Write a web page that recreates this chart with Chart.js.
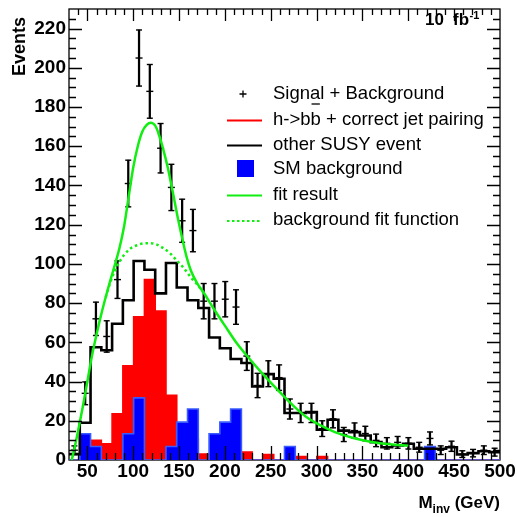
<!DOCTYPE html>
<html>
<head>
<meta charset="utf-8">
<script src="https://cdn.jsdelivr.net/npm/chart.js@4.4.1/dist/chart.umd.min.js"></script>
<style>
html,body{margin:0;padding:0;background:#fff;}
#wrap{width:517px;height:517px;}
</style>
</head>
<body>
<div id="wrap"><canvas id="minvChart" width="517" height="517"></canvas></div>
<script>

/* ================================
   DATA (40 bins, 30 - 500 GeV)
================================ */

const histRange = [30, 500];

const sigBkgCounts = [5, 34, 72, 63, 92, 141, 205, 188, 159, 139,
    122, 117, 81, 81, 82, 78, 53, 38, 44, 42,
    26, 24, 24, 16, 21, 13, 15, 13.5, 10, 8.5,
    9, 8.5, 6.5, 11, 5, 7, 3, 3.5, 5, 4];

const sigBkgErrors = [2.2, 5.8, 8.5, 8, 9.6, 11.9, 14.3, 13.7, 12.6, 11.8,
    11, 10.8, 9, 9, 9, 8.8, 7.3, 6.2, 6.6, 6.5,
    5.1, 4.9, 4.9, 4, 4.6, 3.6, 3.9, 3.7, 3.2, 2.9,
    3, 2.9, 2.5, 3.3, 2.2, 2.6, 1.7, 1.9, 2.2, 2];

const otherSusyCounts = [3, 19, 57.5, 56, 69.5, 81.5, 101.5, 97, 85, 100.5,
    88, 81.5, 77.5, 62.5, 57, 51.5, 49.5, 37.5, 43.8, 41.4,
    24, 24, 24.4, 15.4, 20.5, 15, 14.2, 12.5, 9.1, 6.5,
    7.4, 8.3, 5.7, 5.7, 5.7, 6.5, 2.8, 3.5, 4.5, 4];

const hbbCounts = [0, 0, 10, 8.3, 23.5, 48, 73, 92, 76, 33,
    14, 11, 3, 0, 0, 0, 4, 0, 2.8, 0,
    0, 1.8, 0, 1.8, 0, 0, 0, 0, 0, 0,
    0, 0, 0, 0, 0, 0, 0, 0, 0, 0];

const smBkgCounts = [0, 13.4, 6.9, 0, 0, 13.4, 31.7, 0, 0, 6.9,
    19.3, 26, 0, 13.4, 19.3, 26, 0, 0, 0, 0,
    6.9, 0, 0, 0, 0, 0, 0, 0, 0, 0,
    0, 0, 0, 6.9, 0, 0, 0, 0, 0, 0];

const fitMass = [33, 36, 40, 45, 50, 55, 60, 65, 70, 75,
    80, 85, 90, 95, 100, 105, 110, 115, 119, 124,
    128, 133, 138, 143, 148, 153, 158, 163, 170, 178,
    188, 200, 213, 227, 242, 258, 275, 290, 305, 320,
    340, 360, 380, 400];
const fitEvents = [0, 6, 15, 27, 40, 53, 64, 74, 83, 91.5,
    99.5, 108, 119, 134, 149, 160, 167.5, 171, 172, 170.5,
    166, 158, 148.5, 137, 125, 114, 104, 96.5, 90, 84.5,
    77, 68.5, 59.5, 51.5, 43.5, 35.5, 27.5, 21.5, 17.5, 14.2,
    11.2, 9.2, 8, 7.3];

const bkgFitMass = [70, 75, 80, 85, 90, 96, 104, 112, 118, 125, 132, 140, 147, 155, 163, 170, 178];
const bkgFitEvents = [83, 90.5, 96.5, 101, 104.5, 107.5, 109.5, 110.5, 110.6, 110, 108.3, 105.5, 102, 98, 93, 89.5, 84.5];

const xTickLabels = [50, 100, 150, 200, 250, 300, 350, 400, 450, 500];
const yTickLabels = [0, 20, 40, 60, 80, 100, 120, 140, 160, 180, 200, 220];

const legendLabels = [
    "Signal + Background",
    "h->bb + correct jet pairing",
    "other SUSY event",
    "SM background",
    "fit result",
    "background fit function"
];


/* ================================
   HELPERS
================================ */

const GREEN = "#11ee11";
const FONT = "'Liberation Sans', Arial, sans-serif";

const binWidth = (histRange[1] - histRange[0]) / sigBkgCounts.length;

function binCentre(i){
    return histRange[0] + (i + 0.5) * binWidth;
}

function histSteps(counts){
    const pts = counts.map((c, i) => ({x: histRange[0] + i * binWidth, y: c}));
    pts.push({x: histRange[1], y: counts[counts.length - 1]});
    return pts;
}

function curve(xs, ys){
    return xs.map((x, i) => ({x: x, y: ys[i]}));
}

const centrePoints = sigBkgCounts.map((c, i) => ({x: binCentre(i), y: c}));
const capPoints = [];
sigBkgCounts.forEach((c, i) => {
    capPoints.push({x: binCentre(i), y: c - sigBkgErrors[i]});
    capPoints.push({x: binCentre(i), y: c + sigBkgErrors[i]});
});
const errorBars = sigBkgCounts.map((c, i) => ({x: binCentre(i), y: [c - sigBkgErrors[i], c + sigBkgErrors[i]]}));


/* ================================
   PLUGINS: frame, ticks, texts, legend
================================ */

const rootFrame = {
    id: "rootFrame",
    beforeDatasetsDraw(chart){
        const {ctx, chartArea: a} = chart;
        ctx.save();
        ctx.strokeStyle = "#000";
        ctx.lineWidth = 1.3;
        ctx.strokeRect(a.left, a.top, a.right - a.left, a.bottom - a.top);
        ctx.restore();
    },
    afterDatasetsDraw(chart){
        const {ctx, chartArea: a, scales} = chart;
        const x = scales.x, y = scales.y;
        ctx.save();
        ctx.strokeStyle = "#000";
        ctx.lineWidth = 1.3;
        ctx.beginPath();
        for(let v = 40; v < histRange[1]; v += 10){
            const px = Math.round(x.getPixelForValue(v)) + 0.5;
            const major = v % 50 === 0;
            const lb = major ? 14 : 7;
            const lt = major ? 12 : 6;
            ctx.moveTo(px, a.bottom); ctx.lineTo(px, a.bottom - lb);
            ctx.moveTo(px, a.top); ctx.lineTo(px, a.top + lt);
        }
        for(let v = 5; v < 230; v += 5){
            const py = Math.round(y.getPixelForValue(v)) + 0.5;
            const major = v % 20 === 0;
            const len = major ? 13 : 7;
            ctx.moveTo(a.left, py); ctx.lineTo(a.left + len, py);
            ctx.moveTo(a.right, py); ctx.lineTo(a.right - len, py);
        }
        ctx.stroke();
        ctx.restore();
    },
    afterDraw(chart){
        const ctx = chart.ctx;
        ctx.save();
        ctx.fillStyle = "#000";

        // y title
        ctx.save();
        ctx.translate(25, 17);
        ctx.rotate(-Math.PI / 2);
        ctx.font = "bold 18px " + FONT;
        ctx.textAlign = "right";
        ctx.textBaseline = "alphabetic";
        ctx.fillText("Events", 0, 0);
        ctx.restore();

        // x title  M_inv (GeV)
        ctx.textBaseline = "alphabetic";
        ctx.textAlign = "left";
        ctx.font = "bold 17px " + FONT;
        const wM = ctx.measureText("M").width;
        const wG = ctx.measureText(" (GeV)").width;
        ctx.font = "bold 12px " + FONT;
        const wI = ctx.measureText("inv").width;
        let tx = 500 - (wM + wI + wG);
        ctx.font = "bold 17px " + FONT;
        ctx.fillText("M", tx, 508);
        ctx.font = "bold 12px " + FONT;
        ctx.fillText("inv", tx + wM, 513);
        ctx.font = "bold 17px " + FONT;
        ctx.fillText(" (GeV)", tx + wM + wI, 508);

        // luminosity label
        ctx.font = "bold 17px " + FONT;
        ctx.fillText("10", 425, 25);
        ctx.fillText("fb", 453, 25);
        const wfb = ctx.measureText("fb").width;
        ctx.font = "bold 11px " + FONT;
        ctx.fillText("-1", 453 + wfb + 0.5, 19);

        // legend
        const textY = [93.5, 120, 144.5, 168.5, 194.5, 219.5];
        const x0 = 227, x1 = 262, tx0 = 273;
        ctx.font = "18.5px " + FONT;
        ctx.textBaseline = "middle";
        legendLabels.forEach((lab, i) => {
            ctx.fillStyle = "#000";
            ctx.fillText(lab, tx0, textY[i]);
        });
        // overline on the second b
        const wpre = ctx.measureText("h->b").width;
        const wb = ctx.measureText("b").width;
        ctx.strokeStyle = "#000";
        ctx.lineWidth = 1.3;
        ctx.beginPath();
        ctx.moveTo(tx0 + wpre + 1, textY[1] - 16);
        ctx.lineTo(tx0 + wpre + wb - 1, textY[1] - 16);
        ctx.stroke();

        // symbols
        ctx.lineWidth = 1.3;
        ctx.beginPath();
        ctx.moveTo(239.5, 94); ctx.lineTo(246.5, 94);
        ctx.moveTo(243, 90.5); ctx.lineTo(243, 97.5);
        ctx.stroke();

        const lineSym = (yy, color, w, dash) => {
            ctx.save();
            ctx.strokeStyle = color;
            ctx.lineWidth = w;
            ctx.setLineDash(dash || []);
            ctx.beginPath();
            ctx.moveTo(x0, yy); ctx.lineTo(x1, yy);
            ctx.stroke();
            ctx.restore();
        };
        lineSym(120.5, "#ff0000", 2);
        lineSym(145.5, "#000", 2.2);
        ctx.fillStyle = "#0000ff";
        ctx.fillRect(237, 160, 17, 17);
        lineSym(195.5, GREEN, 2);
        lineSym(221, GREEN, 2, [2.5, 2.5]);

        ctx.restore();
    }
};


/* ================================
   CHART
================================ */

Chart.defaults.font.family = FONT;

new Chart(document.getElementById("minvChart").getContext("2d"), {
    type: "line",
    data: {
        datasets: [
            {
                label: legendLabels[4],
                data: curve(fitMass, fitEvents),
                borderColor: GREEN,
                borderWidth: 2.5,
                pointRadius: 0,
                cubicInterpolationMode: "monotone",
                fill: false,
                order: 0
            },
            {
                label: legendLabels[5],
                data: curve(bkgFitMass, bkgFitEvents),
                borderColor: GREEN,
                borderWidth: 2.5,
                borderDash: [2.5, 3],
                pointRadius: 0,
                cubicInterpolationMode: "monotone",
                fill: false,
                order: 1
            },
            {
                label: legendLabels[0],
                data: centrePoints,
                showLine: false,
                pointStyle: "line",
                pointRadius: 3.5,
                pointBorderWidth: 1.4,
                pointBorderColor: "#000",
                order: 2
            },
            {
                label: "error caps",
                data: capPoints,
                showLine: false,
                pointStyle: "line",
                pointRadius: 3,
                pointBorderWidth: 1.4,
                pointBorderColor: "#000",
                order: 3
            },
            {
                label: "errors",
                type: "bar",
                data: errorBars,
                backgroundColor: "#000",
                barThickness: 1.6,
                grouped: false,
                borderWidth: 0,
                order: 4
            },
            {
                label: legendLabels[2],
                data: histSteps(otherSusyCounts),
                stepped: true,
                borderColor: "#000",
                borderWidth: 2.6,
                borderJoinStyle: "miter",
                pointRadius: 0,
                fill: false,
                order: 5
            },
            {
                label: legendLabels[3],
                data: histSteps(smBkgCounts),
                stepped: true,
                borderColor: "#3a5cff",
                borderWidth: 1.6,
                backgroundColor: "#0000ff",
                pointRadius: 0,
                fill: "origin",
                order: 6
            },
            {
                label: legendLabels[1],
                data: histSteps(hbbCounts),
                stepped: true,
                borderColor: "#ff0000",
                borderWidth: 1.6,
                backgroundColor: "#ff0000",
                pointRadius: 0,
                fill: "origin",
                order: 7
            }
        ]
    },
    options: {
        responsive: false,
        animation: false,
        events: [],
        layout: {padding: {left: 0, top: 9, right: 17, bottom: 0}},
        plugins: {
            legend: {display: false},
            tooltip: {enabled: false}
        },
        scales: {
            x: {
                type: "linear",
                min: histRange[0],
                max: histRange[1],
                offset: false,
                grid: {display: false, drawTicks: false},
                border: {display: false},
                afterBuildTicks(s){ s.ticks = xTickLabels.map(v => ({value: v})); },
                afterFit(s){
                    s.height = 57;
                    s.paddingLeft = 0; s.paddingRight = 0;
                    s.paddingTop = 0; s.paddingBottom = 0;
                },
                ticks: {
                    color: "#000",
                    font: {size: 19, weight: "bold"},
                    padding: 0,
                    maxRotation: 0,
                    autoSkip: false
                }
            },
            y: {
                min: 0,
                max: 230,
                grid: {display: false, drawTicks: false},
                border: {display: false},
                afterBuildTicks(s){ s.ticks = yTickLabels.map(v => ({value: v})); },
                afterFit(s){
                    s.width = 69;
                    s.paddingLeft = 0; s.paddingRight = 0;
                    s.paddingTop = 0; s.paddingBottom = 0;
                },
                ticks: {
                    color: "#000",
                    font: {size: 19, weight: "bold"},
                    padding: 3
                }
            }
        }
    },
    plugins: [rootFrame]
});

</script>
</body>
</html>
